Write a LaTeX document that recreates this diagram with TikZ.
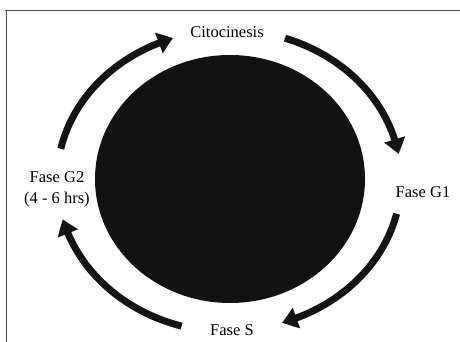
\documentclass[tikz,border=0pt]{standalone}
\usepackage{fontspec}
\setmainfont{Liberation Serif}
\usetikzlibrary{arrows.meta,shapes.geometric,bending}
\begin{document}
\begin{tikzpicture}[x=1pt,y=1pt,
  lbl/.style={font=\fontsize{16.5}{21}\selectfont, align=center, inner sep=1pt},
  cyc/.style={line width=7pt, draw=black!92, -{Triangle[length=15pt,width=21pt,bend]}},
  frame/.style={draw=black!70, line width=1.5pt}]
\useasboundingbox (0,0) rectangle (460,342);
% frame
\coordinate (fa) at (5,331.5);
\coordinate (fb) at (460,331.5);
\coordinate (fc) at (6.5,332);
\coordinate (fd) at (6.5,0);
\draw[frame] (fa) -- (fb);
\draw[frame] (fc) -- (fd);
% cell
\node[ellipse, fill=black!93, minimum width=270pt, minimum height=248pt, inner sep=0pt] (cell) at (230,163) {};
% labels
\node[lbl] (cito) at (227,310) {Citocinesis};
\node[lbl] (g1) at (423,150) {Fase G1};
\node[lbl] (g2) at (57,152.5) {Fase G2\\(4 - 6 hrs)};
\node[lbl] (s) at (232,12) {Fase S};
% arrows on the cycle ellipse
\coordinate (c) at (229,162);
\draw[cyc] (c) ++(168:172 and 150) arc[start angle=168, end angle=109, x radius=172, y radius=150];
\draw[cyc] (c) ++(71:172 and 150) arc[start angle=71, end angle=10, x radius=172, y radius=150];
\draw[cyc] (c) ++(-13:172 and 150) arc[start angle=-13, end angle=-72, x radius=172, y radius=150];
\draw[cyc] (c) ++(-106:172 and 152) arc[start angle=-106, end angle=-165, x radius=172, y radius=152];
\end{tikzpicture}
\end{document}
